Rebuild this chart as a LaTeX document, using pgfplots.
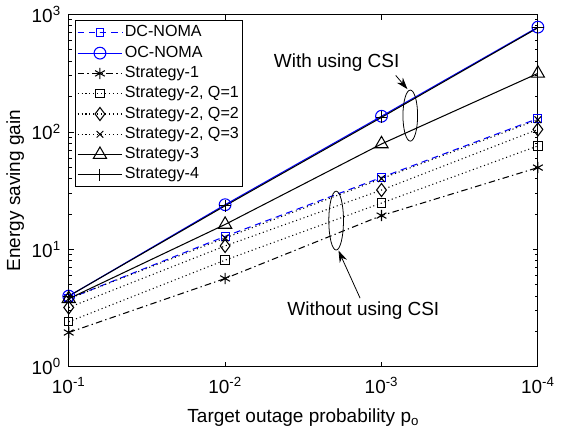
\documentclass[border=0pt]{standalone}
\usepackage{pgfplots}
\pgfplotsset{compat=1.18}
\usepackage{fontspec}
\setmainfont{Liberation Sans}
\usetikzlibrary{arrows.meta}
\definecolor{mblue}{RGB}{0,0,255}
\begin{document}
\fontsize{14.5}{17}\selectfont
\begin{tikzpicture}[
	mdash/.style={dash pattern=on 5pt off 3.5pt},
	mdashdot/.style={dash pattern=on 5pt off 2.5pt on 1pt off 2.5pt},
	mdot/.style={dash pattern=on 0.8pt off 2.2pt},
]
\begin{axis}[
	scale only axis,
	width=358.5pt, height=269.25pt,
	xmode=log, ymode=log,
	x dir=reverse,
	xmin=1e-4, xmax=1e-1,
	ymin=1, ymax=1000,
	xtick={1e-1,1e-2,1e-3,1e-4},
	xticklabels={10\textsuperscript{-1},10\textsuperscript{-2},10\textsuperscript{-3},10\textsuperscript{-4}},
	ytick={1,10,100,1000},
	yticklabels={10\textsuperscript{0},10\textsuperscript{1},10\textsuperscript{2},10\textsuperscript{3}},
	tick label style={font=\fontsize{14.5}{17}\selectfont},
	xticklabel style={yshift=-3pt},
	yticklabel style={xshift=-1pt},
	label style={font=\fontsize{14.5}{17}\selectfont},
	xlabel={Target outage probability p\textsubscript{o}},
	xlabel style={yshift=-2pt},
	ylabel={Energy saving gain},
	ylabel style={yshift=-4pt},
	axis line style={line width=0.8pt},
	major tick length=4pt, minor tick length=2.5pt,
	every tick/.style={black, line width=0.6pt},
	legend cell align=left,
	legend style={at={(axis description cs:0,1)}, anchor=north west,
		xshift=4.5pt, yshift=-4.5pt,
		font=\fontsize{12.3}{14}\selectfont, draw=black, line width=0.8pt,
		inner sep=1.5pt, row sep=0.2pt,
		nodes={inner sep=1.5pt, text height=9.3pt, text depth=3pt}},
	legend image code/.code={\draw[mark repeat=2,mark phase=2] plot coordinates {(0cm,0cm) (0.6cm,0cm) (1.2cm,0cm)};},
	every axis plot/.append style={line width=0.8pt},
]
\addplot[mblue, mdash, mark=square, mark size=3pt, mark options={solid}] coordinates {
	(1e-1,3.8) (1e-2,12.9) (1e-3,41) (1e-4,130)};
\addlegendentry{DC-NOMA}
\addplot[mblue, solid, mark=o, mark size=4.5pt] coordinates {
	(1e-1,4.0) (1e-2,24) (1e-3,136) (1e-4,780)};
\addlegendentry{OC-NOMA}
\addplot[black, mdashdot, mark=asterisk, mark size=4.3pt, mark options={solid}] coordinates {
	(1e-1,1.96) (1e-2,5.65) (1e-3,19.4) (1e-4,49.7)};
\addlegendentry{Strategy-1}
\addplot[black, mdot, mark=square, mark size=3.2pt, mark options={solid}] coordinates {
	(1e-1,2.42) (1e-2,8.1) (1e-3,24.8) (1e-4,76)};
\addlegendentry{Strategy-2, Q=1}
\addplot[black, mdot, mark=diamond, mark size=5pt, mark options={solid}] coordinates {
	(1e-1,3.2) (1e-2,10.7) (1e-3,32) (1e-4,105)};
\addlegendentry{Strategy-2, Q=2}
\addplot[black, mdot, mark=x, mark size=3.6pt, mark options={solid}] coordinates {
	(1e-1,3.8) (1e-2,12.5) (1e-3,40) (1e-4,127)};
\addlegendentry{Strategy-2, Q=3}
\addplot[black, solid, mark=triangle, mark size=5.8pt] coordinates {
	(1e-1,3.8) (1e-2,16.3) (1e-3,79) (1e-4,315)};
\addlegendentry{Strategy-3}
\addplot[black, solid, mark=+, mark size=4.5pt] coordinates {
	(1e-1,4.0) (1e-2,23.5) (1e-3,133) (1e-4,770)};
\addlegendentry{Strategy-4}

\draw[line width=0.6pt] (rel axis cs:0.728,0.713) ellipse [x radius=5.6pt, y radius=19.5pt];
\draw[line width=0.6pt] (rel axis cs:0.570,0.415) ellipse [x radius=5.6pt, y radius=22.5pt];
\node[font=\fontsize{14.5}{17}\selectfont] at (rel axis cs:0.571,0.864) {With using CSI};
\node[font=\fontsize{14.5}{17}\selectfont] at (rel axis cs:0.628,0.159) {Without using CSI};
\draw[line width=0.6pt, -{Stealth[length=9pt,width=6pt]}] (rel axis cs:0.697,0.827) -- (rel axis cs:0.722,0.788);
\draw[line width=0.6pt, -{Stealth[length=9pt,width=6pt]}] (rel axis cs:0.621,0.195) -- (rel axis cs:0.575,0.330);
\end{axis}
\path (current axis.south west) ++(-50.25pt,-51.75pt) coordinate (bbsw);
\path (current axis.north east) ++(12pt,9.75pt) coordinate (bbne);
\useasboundingbox (bbsw) rectangle (bbne);
\end{tikzpicture}
\end{document}
